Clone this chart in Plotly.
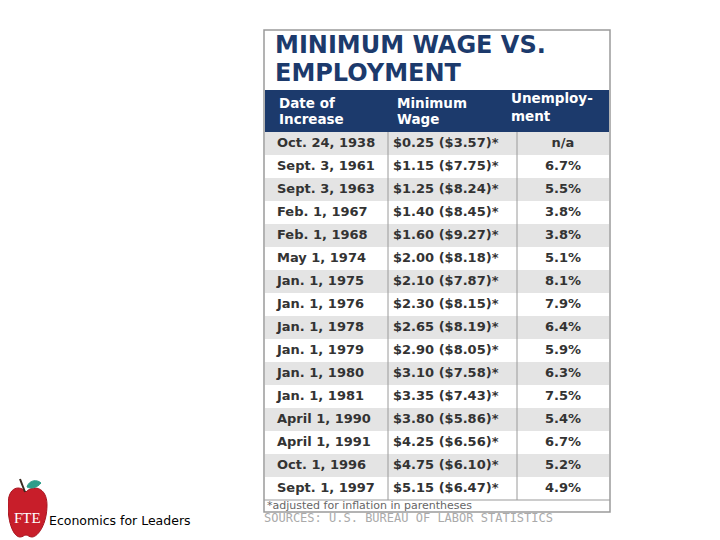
import plotly.graph_objects as go

# Table data
DATES = ["Oct. 24, 1938", "Sept. 3, 1961", "Sept. 3, 1963", "Feb. 1, 1967",
         "Feb. 1, 1968", "May 1, 1974", "Jan. 1, 1975", "Jan. 1, 1976",
         "Jan. 1, 1978", "Jan. 1, 1979", "Jan. 1, 1980", "Jan. 1, 1981",
         "April 1, 1990", "April 1, 1991", "Oct. 1, 1996", "Sept. 1, 1997"]
WAGES = [0.25, 1.15, 1.25, 1.40, 1.60, 2.00, 2.10, 2.30,
         2.65, 2.90, 3.10, 3.35, 3.80, 4.25, 4.75, 5.15]
REAL_WAGES = [3.57, 7.75, 8.24, 8.45, 9.27, 8.18, 7.87, 8.15,
              8.19, 8.05, 7.58, 7.43, 5.86, 6.56, 6.10, 6.47]
UNEMPLOYMENT = [None, 6.7, 5.5, 3.8, 3.8, 5.1, 8.1, 7.9,
                6.4, 5.9, 6.3, 7.5, 5.4, 6.7, 5.2, 4.9]

TITLE_LINES = ["MINIMUM WAGE VS.", "EMPLOYMENT"]
HEADER_LINES = [("Date of", "Increase"), ("Minimum", "Wage"), ("Unemploy-", "ment")]
FOOTNOTE = "*adjusted for inflation in parentheses"
SOURCE = "SOURCES: U.S. BUREAU OF LABOR STATISTICS"
LOGO_TEXT = "FTE"
BRAND = "Economics for Leaders"

# Style config
NAVY = '#1c3a6c'
GREY_ROW = '#e4e4e4'
BORDER = '#9a9a9a'
TEXT = '#333333'
W, H = 720, 540
OFF = 8  # page body margin, axes are set so data units = screen pixels

# Table box in screen pixels
BOX_X0, BOX_X1 = 264, 610
BOX_Y0, BOX_Y1 = 30, 512
TAB_X0, TAB_X1 = 265, 609
TAB_TOP = 90
HEADER_H = 42
ROW_H = 23
COL_W = [123, 129, 92]
BODY_TOP = TAB_TOP + HEADER_H
BODY_BOTTOM = BODY_TOP + ROW_H * len(DATES)


def paper_y(py):
    return 1 - (py - OFF) / H


col_dates = ['<b>%s</b>' % d for d in DATES]
col_wages = ['<b>$%.2f ($%.2f)*</b>' % (w, r) for w, r in zip(WAGES, REAL_WAGES)]
col_unemp = ['<b>n/a</b>' if u is None else '<b>%.1f%%</b>' % u for u in UNEMPLOYMENT]
rows = list(range(len(DATES)))
row_fill = [GREY_ROW if i % 2 == 0 else 'white' for i in rows]

fig = go.Figure()

# Empty trace so the pixel x/y subplot exists for shapes and annotations
fig.add_trace(go.Scatter(x=[], y=[], hoverinfo='skip'))

# Row shading
fig.add_trace(go.Bar(
    y=rows, x=[TAB_X1 - TAB_X0] * len(rows), base=TAB_X0,
    orientation='h', width=1, marker=dict(color=row_fill, line_width=0),
    yaxis='y2', hoverinfo='skip',
))

# Cell texts
cell_font = dict(family='DejaVu Sans', size=13, color=TEXT)
fig.add_trace(go.Scatter(x=[TAB_X0 + 12] * len(rows), y=rows, text=col_dates,
                         mode='text', textposition='middle right',
                         textfont=cell_font, yaxis='y2', hoverinfo='skip'))
fig.add_trace(go.Scatter(x=[TAB_X0 + COL_W[0] + 5] * len(rows), y=rows, text=col_wages,
                         mode='text', textposition='middle right',
                         textfont=cell_font, yaxis='y2', hoverinfo='skip'))
fig.add_trace(go.Scatter(x=[TAB_X0 + COL_W[0] + COL_W[1] + COL_W[2] / 2] * len(rows),
                         y=rows, text=col_unemp,
                         mode='text', textposition='middle center',
                         textfont=cell_font, yaxis='y2', hoverinfo='skip'))

fig.update_layout(
    width=W, height=H,
    margin=dict(l=0, r=0, t=0, b=0),
    paper_bgcolor='white', plot_bgcolor='rgba(0,0,0,0)',
    showlegend=False, bargap=0,
    xaxis=dict(range=[OFF, W + OFF], visible=False, fixedrange=True),
    yaxis=dict(range=[H + OFF, OFF], visible=False, fixedrange=True),
    yaxis2=dict(domain=[paper_y(BODY_BOTTOM), paper_y(BODY_TOP)],
                range=[len(rows) - 0.5, -0.5], anchor='x',
                visible=False, fixedrange=True),
)

# Outer frame
fig.add_shape(type='rect', x0=BOX_X0, x1=BOX_X1, y0=BOX_Y0, y1=BOX_Y1,
              line=dict(color=BORDER, width=1.5))

# Header band
fig.add_shape(type='rect', x0=TAB_X0, x1=TAB_X1, y0=TAB_TOP, y1=BODY_TOP,
              fillcolor=NAVY, line_width=0)

# Column separators
sep = TAB_X0
for w in COL_W[:-1]:
    sep += w
    fig.add_shape(type='line', x0=sep, x1=sep, y0=BODY_TOP, y1=BODY_BOTTOM,
                  line=dict(color=BORDER, width=1))

# Footnote separator
fig.add_shape(type='line', x0=BOX_X0, x1=BOX_X1, y0=BODY_BOTTOM, y1=BODY_BOTTOM,
              line=dict(color=BORDER, width=1))

# Title
for i, line in enumerate(TITLE_LINES):
    fig.add_annotation(x=273, y=45 + i * 28, text='<b>%s</b>' % line, showarrow=False,
                       xanchor='left', yanchor='middle',
                       font=dict(family='DejaVu Sans', size=24, color=NAVY))

# Header labels
header_x = [277, 395, 509]
header_y = [(102.5, 118.5), (102.5, 118.5), (98, 116)]
for hx, (y1, y2), (l1, l2) in zip(header_x, header_y, HEADER_LINES):
    for hy, label in ((y1, l1), (y2, l2)):
        fig.add_annotation(x=hx, y=hy, text='<b>%s</b>' % label, showarrow=False,
                           xanchor='left', yanchor='middle',
                           font=dict(family='DejaVu Sans', size=13.5, color='white'))

# Footnote and source
fig.add_annotation(x=265, y=505, text=FOOTNOTE, showarrow=False,
                   xanchor='left', yanchor='middle',
                   font=dict(family='DejaVu Sans', size=11, color='#666666'))
fig.add_annotation(x=262, y=518, text=SOURCE, showarrow=False,
                   xanchor='left', yanchor='middle',
                   font=dict(family='DejaVu Sans Mono', size=12, color='#aaaaaa'))

# FTE apple logo
fig.add_shape(type='path',
              path='M 26 492 C 32 485, 47 486, 47 505 C 47 524, 38 537, 32 537 '
                   'C 29 537, 28 535, 26 535 C 24 535, 23 537, 20 537 '
                   'C 14 537, 8 524, 8 505 C 8 486, 20 485, 26 492 Z',
              fillcolor='#c81e2a', line=dict(color='#a8141f', width=1))
fig.add_shape(type='line', x0=25, y0=492, x1=20, y1=479,
              line=dict(color='#3a2a20', width=2))
fig.add_shape(type='path',
              path='M 27 487 C 29 480, 37 479, 41 483 C 37 488, 31 489, 27 487 Z',
              fillcolor='#2e9e8a', line=dict(color='#2e9e8a', width=1))
fig.add_annotation(x=27, y=518, text=LOGO_TEXT, showarrow=False,
                   xanchor='center', yanchor='middle',
                   font=dict(family='Liberation Serif', size=15, color='white'))
fig.add_annotation(x=47, y=520, text=BRAND, showarrow=False,
                   xanchor='left', yanchor='middle',
                   font=dict(family='DejaVu Sans', size=12.5, color='black'))

fig.write_html("out.html")
